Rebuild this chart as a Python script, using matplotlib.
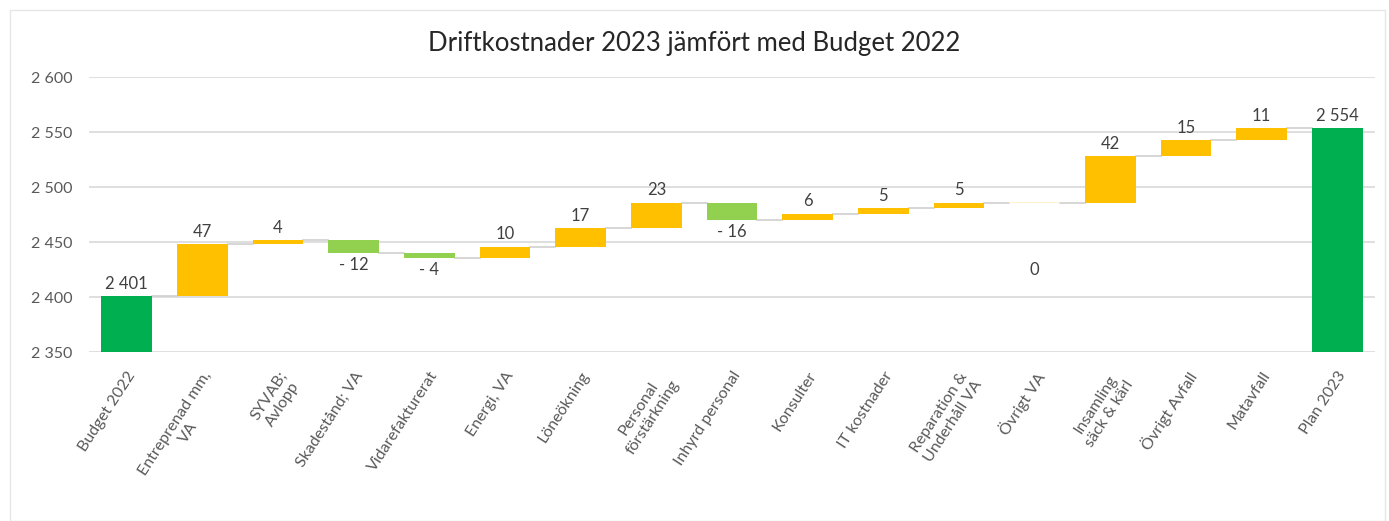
import matplotlib.pyplot as plt
from matplotlib.patches import Rectangle
from matplotlib.ticker import FuncFormatter

# Data
categories = ["Budget 2022", "Entreprenad mm,\nVA", "SYVAB;\nAvlopp", "Skadestånd; VA",
              "Vidarefakturerat", "Energi, VA", "Löneökning", "Personal\nförstärkning",
              "Inhyrd personal", "Konsulter", "IT kostnader", "Reparation &\nUnderhåll VA",
              "Övrigt VA", "Insamling\nsäck & kärl", "Övrigt Avfall", "Matavfall", "Plan 2023"]
start_total = 2401
changes = [47, 4, -12, -4, 10, 17, 23, -16, 6, 5, 5, 0, 42, 15, 11]
end_total = 2554

GREEN_TOTAL = "#00B050"
UP = "#FFC000"
DOWN = "#92D050"
GRID = "#D9D9D9"
TXT = "#404040"

plt.rcParams['font.family'] = ['Lato', 'DejaVu Sans']

fig = plt.figure(figsize=(13.89, 5.21), dpi=100)
fig.patches.append(Rectangle((0.007, 0.0), 0.99, 0.98, transform=fig.transFigure,
                             fill=False, edgecolor="#E6E6E6", lw=1))
ax = fig.add_axes([0.064, 0.324, 0.926, 0.528])

n = len(categories)
width = 0.67

# running totals
levels = [start_total]
for c in changes:
    levels.append(levels[-1] + c)

# total bars
ax.bar(0, start_total, width=width, color=GREEN_TOTAL, zorder=3)
ax.bar(n - 1, end_total, width=width, color=GREEN_TOTAL, zorder=3)

# change bars
for i, c in enumerate(changes, start=1):
    base = levels[i - 1]
    if c > 0:
        col = UP
    elif c < 0:
        col = DOWN
    else:
        col = "#FFF2CC"
    h = c if c != 0 else 0.4
    ax.bar(i, h, bottom=base, width=width, color=col, zorder=3)

# connectors
all_levels = levels + [end_total]
for i in range(n - 1):
    lvl = all_levels[i]
    ax.plot([i + width / 2, i + 1 - width / 2], [lvl, lvl], color="#D0D0D0", lw=1.2, zorder=2)

def fmt(v):
    s = f"{abs(v):,}".replace(",", " ")
    return ("- " + s) if v < 0 else s

# labels
lab_kw = dict(ha="center", fontsize=12, color=TXT, textcoords="offset points")
ax.annotate(fmt(start_total), (0, start_total), xytext=(0, 3), va="bottom", **lab_kw)
ax.annotate(fmt(end_total), (n - 1, end_total), xytext=(0, 3), va="bottom", **lab_kw)
for i, c in enumerate(changes, start=1):
    base = levels[i - 1]
    if c > 0:
        ax.annotate(fmt(c), (i, base + c), xytext=(0, 3), va="bottom", **lab_kw)
    elif c < 0:
        ax.annotate(fmt(c), (i, base + c), xytext=(0, -3), va="top", **lab_kw)
    else:
        ax.annotate(fmt(c), (i, base), xytext=(0, -43), va="top", **lab_kw)

ax.set_ylim(2350, 2600)
ax.set_xlim(-0.5, n - 0.5)
ax.set_yticks(range(2350, 2601, 50))
ax.yaxis.set_major_formatter(FuncFormatter(lambda v, p: f"{int(v):,}".replace(",", " ")))
ax.grid(axis="y", color=GRID, lw=1.2, zorder=0)
ax.set_axisbelow(True)
for s in ax.spines.values():
    s.set_visible(False)
ax.tick_params(axis="both", length=0, labelsize=11.5, colors="#595959")
ax.tick_params(axis="y", pad=12)

ax.set_xticks(range(n))
ax.set_xticklabels(categories, rotation=57, ha="right", va="top", rotation_mode="anchor",
                   multialignment="center", fontsize=11.5, color="#595959")
ax.tick_params(axis="x", pad=12)

fig.text(0.5, 0.917, "Driftkostnader 2023 jämfört med Budget 2022", ha="center", va="center",
         fontsize=18.5, color="#262626")

fig.savefig("out.png", dpi=100, facecolor="white")
